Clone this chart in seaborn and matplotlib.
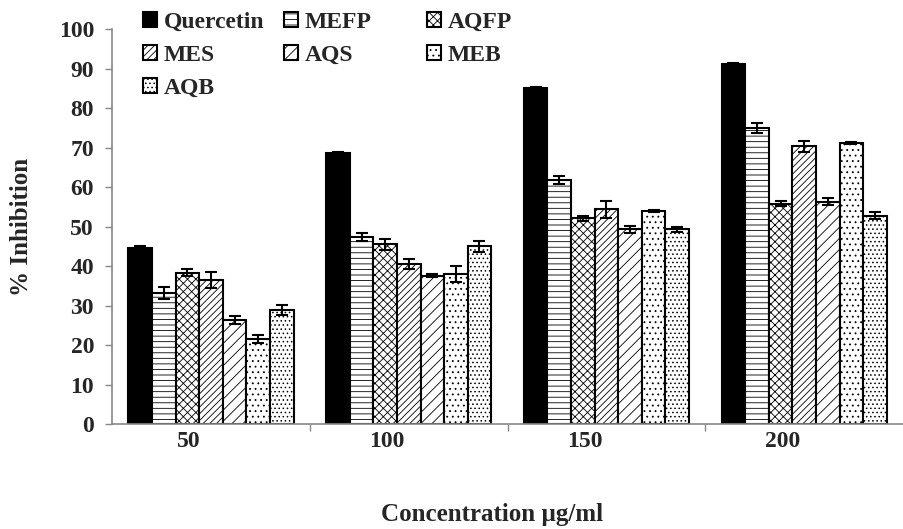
import numpy as np
import pandas as pd
import matplotlib
import matplotlib.pyplot as plt
import matplotlib.transforms as mtransforms
import seaborn as sns

# Data
concentrations = ['50', '100', '150', '200']
extracts = ['Quercetin', 'MEFP', 'AQFP', 'MES', 'AQS', 'MEB', 'AQB']

quercetin = [44.7, 68.7, 85.2, 91.2]
mefp = [33.3, 47.5, 61.7, 75.0]
aqfp = [38.4, 45.5, 52.1, 55.8]
mes = [36.6, 40.6, 54.4, 70.3]
aqs = [26.3, 37.6, 49.3, 56.3]
meb = [21.6, 38.1, 53.9, 71.2]
aqb = [29.0, 45.0, 49.3, 52.8]

quercetin_err = [0.3, 0.3, 0.2, 0.1]
mefp_err = [1.5, 1.0, 1.0, 1.2]
aqfp_err = [1.0, 1.3, 0.7, 0.6]
mes_err = [2.0, 1.3, 2.2, 1.3]
aqs_err = [1.0, 0.3, 0.8, 0.9]
meb_err = [1.0, 2.0, 0.3, 0.3]
aqb_err = [1.3, 1.3, 0.7, 0.8]

values = [quercetin, mefp, aqfp, mes, aqs, meb, aqb]
errors = [quercetin_err, mefp_err, aqfp_err, mes_err, aqs_err, meb_err, aqb_err]

rows = []
for name, vals, errs in zip(extracts, values, errors):
    for conc, v, e in zip(concentrations, vals, errs):
        rows.append({'Concentration': conc, 'Extract': name, 'Inhibition': v, 'Err': e})
df = pd.DataFrame(rows)

sns.set_style('white')
plt.rcParams['font.family'] = ['Liberation Serif', 'DejaVu Serif']
plt.rcParams['font.weight'] = 'bold'
plt.rcParams['hatch.linewidth'] = 0.6

fig = plt.figure(figsize=(9.04, 5.29), dpi=100)
ax = fig.add_axes([0.124, 0.198, 0.875, 0.747])

colors = ['black'] + ['white'] * 6
sns.barplot(data=df, x='Concentration', y='Inhibition', hue='Extract',
            order=concentrations, hue_order=extracts, palette=colors,
            width=0.835, gap=0, edgecolor='black', linewidth=1.5,
            errorbar=None, legend=False, ax=ax)

hatches = ['', '---', 'xxxx', '/////', '///', '...', '....']
for cont, hatch, name in zip(ax.containers, hatches, extracts):
    errs = df[df['Extract'] == name].set_index('Concentration').loc[concentrations, 'Err'].values
    xs, ys = [], []
    for p in cont.patches:
        p.set_hatch(hatch)
        xs.append(p.get_x() + p.get_width() / 2)
        ys.append(p.get_height())
    ax.errorbar(xs, ys, yerr=errs, fmt='none', ecolor='black',
                elinewidth=1.5, capsize=4, capthick=1.5, zorder=5)

ax.set_ylim(0, 100)
ax.set_xlim(-0.5, 3.5)
ax.set_yticks(np.arange(0, 101, 10))
ax.set_xticks([0.5, 1.5, 2.5], minor=True)
ax.tick_params(axis='x', which='major', length=0, pad=5, labelsize=17)
ax.tick_params(axis='x', which='minor', length=5, direction='out', color='#888888', width=1)
ax.tick_params(axis='y', length=5, direction='out', color='#888888', width=1, pad=8, labelsize=17)
ax.xaxis.set_ticks_position('bottom')
ax.yaxis.set_ticks_position('left')

# category labels sit a little left of the group centres in the original
offset = mtransforms.ScaledTranslation(-22 / 100, 0, fig.dpi_scale_trans)
for lbl in ax.get_xticklabels():
    lbl.set_transform(lbl.get_transform() + offset)

for s in ['top', 'right']:
    ax.spines[s].set_visible(False)
for s in ['left', 'bottom']:
    ax.spines[s].set_color('#888888')
    ax.spines[s].set_linewidth(1.2)

ax.set_ylabel('% Inhibition', fontsize=18, fontweight='bold')
ax.yaxis.set_label_coords(-0.1, 0.5)
ax.set_xlabel('Concentration µg/ml', fontsize=18, fontweight='bold')
ax.xaxis.set_label_coords((492 - 112) / 791, -0.2)

# legend laid out row by row in three fixed-width columns like the original
columns = [[0, 3, 6], [1, 4], [2, 5]]
col_x = [131, 272, 415]
for idx, cx in zip(columns, col_x):
    fig.legend([ax.containers[i] for i in idx], [extracts[i] for i in idx],
               loc='upper left', bbox_to_anchor=(cx / 904, 1.0),
               frameon=False, fontsize=17, handlelength=0.6, handleheight=0.6,
               handletextpad=0.3, labelspacing=0.5, borderaxespad=0.1)

fig.savefig('out.png', dpi=100)
